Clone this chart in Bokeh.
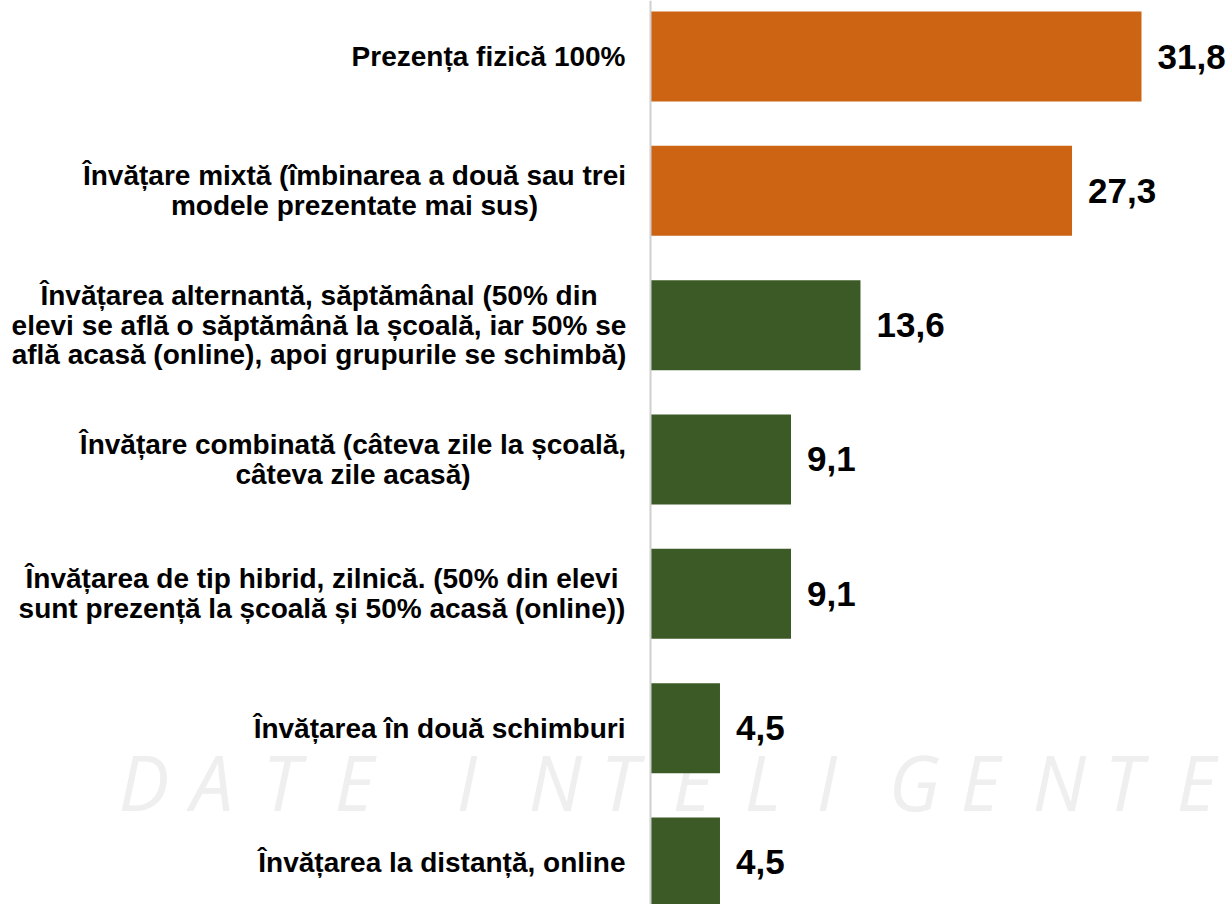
from bokeh.plotting import figure
from bokeh.models import ColumnDataSource, Span, Range1d
from bokeh.core.properties import value
from bokeh.embed import file_html
from bokeh.resources import INLINE

# ---- data ----
categories = [
    "Prezența fizică 100%",
    "Învățare mixtă (îmbinarea a două sau trei\nmodele prezentate mai sus)",
    "Învățarea alternantă, săptămânal (50% din\nelevi se află o săptămână la școală, iar 50% se\naflă acasă (online), apoi grupurile se schimbă)",
    "Învățare combinată (câteva zile la școală,\ncâteva zile acasă)",
    "Învățarea de tip hibrid, zilnică. (50% din elevi\nsunt prezență la școală și 50% acasă (online))",
    "Învățarea în două schimburi",
    "Învățarea la distanță, online",
]
values = [31.8, 27.3, 13.6, 9.1, 9.1, 4.5, 4.5]
groups = ["top", "top", "other", "other", "other", "other", "other"]
watermark_words = ["DATE", "INTELIGENTE"]

# ---- styling ----
ORANGE = "#CD6414"
GREEN = "#3B5A25"
FONT = "Liberation Sans"

FW, FH = 1231, 904
ORIGIN_PX = 650.0        # pixel of x=0 inside the figure
PX_PER_UNIT = 15.44
TOP_PX = 56.0            # pixel of first bar centre
PITCH = 134.33           # pixels between bar centres

n = len(values)
ypos = [-i for i in range(n)]
colors = [ORANGE if g == "top" else GREEN for g in groups]
val_text = [f"{v:.1f}".replace(".", ",") for v in values]

p = figure(width=FW, height=FH, output_backend="svg", toolbar_location=None,
           min_border=0, min_border_left=0, min_border_right=0,
           min_border_top=0, min_border_bottom=0)
p.x_range = Range1d(-ORIGIN_PX / PX_PER_UNIT, (FW - ORIGIN_PX) / PX_PER_UNIT)
p.y_range = Range1d(-(FH - TOP_PX) / PITCH, TOP_PX / PITCH)
p.axis.visible = False
p.grid.visible = False
p.outline_line_color = None
p.background_fill_color = "white"
p.border_fill_color = "white"

# faint spaced-out watermark, one letter at a time
WM_START, WM_PITCH, WM_WORD_GAP, WM_BASE = 118, 72.0, 50, 781
wm_letters, wm_x = [], []
px = WM_START
for w in watermark_words:
    for ch in w:
        wm_letters.append(ch)
        wm_x.append((px - ORIGIN_PX) / PX_PER_UNIT)
        px += WM_PITCH
    px += WM_WORD_GAP
wm_y = [-(WM_BASE - TOP_PX) / PITCH] * len(wm_letters)
wm_r = p.text(x=wm_x, y=wm_y, text=wm_letters, text_font=value("Open Sans"),
              text_font_style="italic", text_font_size="76px", text_color="#EFEFEF",
              text_align="left", text_baseline="alphabetic")
wm_r.level = "underlay"

src = ColumnDataSource(dict(y=ypos, v=values, c=colors, t=val_text, cat=categories))
p.hbar(y="y", right="v", left=0, height=0.67, fill_color="c", line_color=None, source=src)

p.add_layout(Span(location=0, dimension="height", line_color="#D0D0D0", line_width=2))

# value labels
p.text(x="v", y="y", text="t", source=src, x_offset=16,
       text_font=value(FONT), text_font_style="bold", text_font_size="35px",
       text_align="left", text_baseline="middle", text_color="black")

# category labels: single-line right aligned, multi-line centred block
single = [i for i, c in enumerate(categories) if "\n" not in c]
multi = [i for i, c in enumerate(categories) if "\n" in c]
s1 = ColumnDataSource(dict(y=[ypos[i] for i in single], cat=[categories[i] for i in single]))
p.text(x=0, y="y", text="cat", source=s1, x_offset=-25,
       text_font=value(FONT), text_font_style="bold", text_font_size="28px",
       text_align="right", text_baseline="middle", text_color="black")

block_w = {1: 542, 2: 613, 3: 545, 4: 607}  # approximate block widths (px) for centring
s2 = ColumnDataSource(dict(y=[ypos[i] for i in multi], cat=[categories[i] for i in multi],
                           xo=[-25 - block_w[i] / 2 for i in multi]))
p.text(x=0, y="y", text="cat", source=s2, x_offset="xo",
       text_font=value(FONT), text_font_style="bold", text_font_size="28px",
       text_align="center", text_baseline="middle", text_color="black",
       text_line_height=0.96)

open("out.html", "w").write(file_html(p, INLINE))
